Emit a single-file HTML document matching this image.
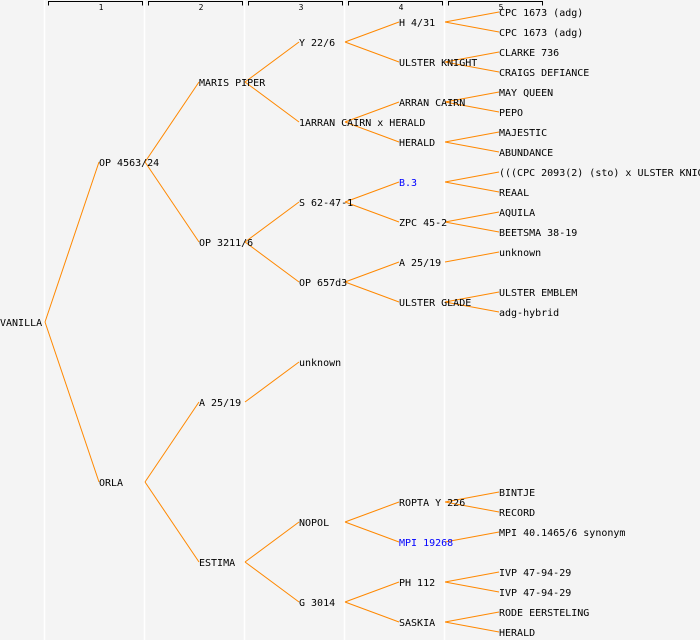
<!DOCTYPE html>
<html><head><meta charset="utf-8"><style>
html,body{margin:0;padding:0;background:#f4f4f4;}
svg{display:block;}
text{font-family:"DejaVu Sans Mono","Liberation Mono",monospace;font-size:10px;fill:#000;}
.h{font-size:8px;}
</style></head><body>
<svg width="700" height="640" viewBox="0 0 700 640" xmlns="http://www.w3.org/2000/svg">
<rect width="700" height="640" fill="#f4f4f4"/>
<g stroke="#ffffff" stroke-width="1.5">
<line x1="44.5" y1="0" x2="44.5" y2="640"/><line x1="144.5" y1="0" x2="144.5" y2="640"/><line x1="244.5" y1="0" x2="244.5" y2="640"/><line x1="344.5" y1="0" x2="344.5" y2="640"/><line x1="444.5" y1="0" x2="444.5" y2="640"/>
</g>
<g stroke="#000" stroke-width="1" fill="none">
<path d="M48.5 5.5V1.5H142.5V5.5"/><path d="M148.5 5.5V1.5H242.5V5.5"/><path d="M248.5 5.5V1.5H342.5V5.5"/><path d="M348.5 5.5V1.5H442.5V5.5"/><path d="M448.5 5.5V1.5H542.5V5.5"/>
</g>
<g class="h" text-anchor="middle">
<text class="h" x="101" y="10">1</text><text class="h" x="201" y="10">2</text><text class="h" x="301" y="10">3</text><text class="h" x="401" y="10">4</text><text class="h" x="501" y="10">5</text>
</g>
<g stroke="#ff8800" stroke-width="1" fill="none">
<line x1="45" y1="322" x2="99" y2="162"/><line x1="45" y1="322" x2="99" y2="482"/>
<line x1="145" y1="162" x2="199" y2="82"/><line x1="145" y1="162" x2="199" y2="242"/>
<line x1="145" y1="482" x2="199" y2="402"/><line x1="145" y1="482" x2="199" y2="562"/>
<line x1="245" y1="82" x2="299" y2="42"/><line x1="245" y1="82" x2="299" y2="122"/>
<line x1="245" y1="242" x2="299" y2="202"/><line x1="245" y1="242" x2="299" y2="282"/>
<line x1="245" y1="402" x2="299" y2="362"/>
<line x1="245" y1="562" x2="299" y2="522"/><line x1="245" y1="562" x2="299" y2="602"/>
<line x1="345" y1="42" x2="399" y2="22"/><line x1="345" y1="42" x2="399" y2="62"/>
<line x1="345" y1="122" x2="399" y2="102"/><line x1="345" y1="122" x2="399" y2="142"/>
<line x1="345" y1="202" x2="399" y2="182"/><line x1="345" y1="202" x2="399" y2="222"/>
<line x1="345" y1="282" x2="399" y2="262"/><line x1="345" y1="282" x2="399" y2="302"/>
<line x1="345" y1="522" x2="399" y2="502"/><line x1="345" y1="522" x2="399" y2="542"/>
<line x1="345" y1="602" x2="399" y2="582"/><line x1="345" y1="602" x2="399" y2="622"/>
<line x1="445" y1="22" x2="499" y2="12"/><line x1="445" y1="22" x2="499" y2="32"/>
<line x1="445" y1="62" x2="499" y2="52"/><line x1="445" y1="62" x2="499" y2="72"/>
<line x1="445" y1="102" x2="499" y2="92"/><line x1="445" y1="102" x2="499" y2="112"/>
<line x1="445" y1="142" x2="499" y2="132"/><line x1="445" y1="142" x2="499" y2="152"/>
<line x1="445" y1="182" x2="499" y2="172"/><line x1="445" y1="182" x2="499" y2="192"/>
<line x1="445" y1="222" x2="499" y2="212"/><line x1="445" y1="222" x2="499" y2="232"/>
<line x1="445" y1="262" x2="499" y2="252"/>
<line x1="445" y1="302" x2="499" y2="292"/><line x1="445" y1="302" x2="499" y2="312"/>
<line x1="445" y1="502" x2="499" y2="492"/><line x1="445" y1="502" x2="499" y2="512"/>
<line x1="445" y1="542" x2="499" y2="532"/>
<line x1="445" y1="582" x2="499" y2="572"/><line x1="445" y1="582" x2="499" y2="592"/>
<line x1="445" y1="622" x2="499" y2="612"/><line x1="445" y1="622" x2="499" y2="632"/>
</g>
<g>
<text x="0" y="326">VANILLA</text>
<text x="99" y="166">OP 4563/24</text><text x="99" y="486">ORLA</text>
<text x="199" y="86">MARIS PIPER</text><text x="199" y="246">OP 3211/6</text><text x="199" y="406">A 25/19</text><text x="199" y="566">ESTIMA</text>
<text x="299" y="46">Y 22/6</text><text x="299" y="126">1ARRAN CAIRN x HERALD</text><text x="299" y="206">S 62-47-1</text><text x="299" y="286">OP 657d3</text><text x="299" y="366">unknown</text><text x="299" y="526">NOPOL</text><text x="299" y="606">G 3014</text>
<text x="399" y="26">H 4/31</text><text x="399" y="66">ULSTER KNIGHT</text><text x="399" y="106">ARRAN CAIRN</text><text x="399" y="146">HERALD</text><text x="399" y="186" style="fill:#0000ff">B.3</text><text x="399" y="226">ZPC 45-2</text><text x="399" y="266">A 25/19</text><text x="399" y="306">ULSTER GLADE</text><text x="399" y="506">ROPTA Y 226</text><text x="399" y="546" style="fill:#0000ff">MPI 19268</text><text x="399" y="586">PH 112</text><text x="399" y="626">SASKIA</text>
<text x="499" y="16">CPC 1673 (adg)</text><text x="499" y="36">CPC 1673 (adg)</text><text x="499" y="56">CLARKE 736</text><text x="499" y="76">CRAIGS DEFIANCE</text><text x="499" y="96">MAY QUEEN</text><text x="499" y="116">PEPO</text><text x="499" y="136">MAJESTIC</text><text x="499" y="156">ABUNDANCE</text><text x="499" y="176">(((CPC 2093(2) (sto) x ULSTER KNIGHT</text><text x="499" y="196">REAAL</text><text x="499" y="216">AQUILA</text><text x="499" y="236">BEETSMA 38-19</text><text x="499" y="256">unknown</text><text x="499" y="296">ULSTER EMBLEM</text><text x="499" y="316">adg-hybrid</text><text x="499" y="496">BINTJE</text><text x="499" y="516">RECORD</text><text x="499" y="536">MPI 40.1465/6 synonym</text><text x="499" y="576">IVP 47-94-29</text><text x="499" y="596">IVP 47-94-29</text><text x="499" y="616">RODE EERSTELING</text><text x="499" y="636">HERALD</text>
</g>
</svg>
</body></html>
